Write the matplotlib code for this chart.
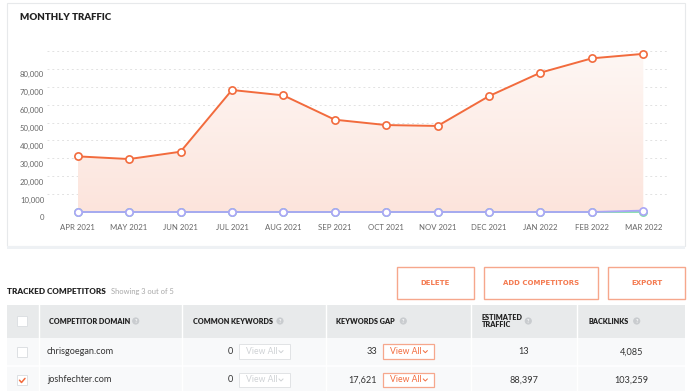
import matplotlib
matplotlib.use("Agg")
import matplotlib.pyplot as plt
import numpy as np
from matplotlib.patches import Rectangle, Circle, Polygon
from matplotlib.colors import LinearSegmentedColormap
from matplotlib.transforms import ScaledTranslation

plt.rcParams['font.family'] = ['Lato', 'DejaVu Sans']

# ---------------- data ----------------
months = ["APR 2021", "MAY 2021", "JUN 2021", "JUL 2021", "AUG 2021", "SEP 2021",
          "OCT 2021", "NOV 2021", "DEC 2021", "JAN 2022", "FEB 2022", "MAR 2022"]
traffic_josh = [31100, 29600, 33700, 68200, 65200, 51600, 48600, 48100, 64800, 77900, 85900, 88397]
traffic_purple = [0, 0, 0, 0, 0, 0, 0, 0, 0, 0, 0, 800]
traffic_green = [0, 0, 0, 0, 0, 0, 0, 0, 0, 0, 0, 13]
y_ticks = [0, 10000, 20000, 30000, 40000, 50000, 60000, 70000, 80000, 90000]
y_tick_labels = ["0", "10,000", "20,000", "30,000", "40,000", "50,000",
                 "60,000", "70,000", "80,000", ""]

domains = ["chrisgoegan.com", "joshfechter.com"]
common_keywords = ["0", "0"]
keywords_gap = ["33", "17,621"]
estimated_traffic = ["13", "88,397"]
backlinks = ["4,085", "103,259"]
checked = [False, True]

ORANGE = "#f26b3d"
ORANGE_LIGHT = "#f6a78c"
PURPLE = "#aaa6f6"
GREEN = "#7fdcaa"

W, H = 700, 391
fig = plt.figure(figsize=(W / 100, H / 100), dpi=100)
fig.patch.set_facecolor("white")

# background axes in pixel coordinates
bg = fig.add_axes([0, 0, 1, 1], zorder=0)
bg.set_xlim(0, W)
bg.set_ylim(H, 0)
bg.axis("off")

# chart panel
bg.add_patch(Rectangle((7, 3), 678, 243, facecolor="white", edgecolor="#e7e9eb", lw=0.8))
bg.add_patch(Rectangle((7, 246), 678, 2.5, facecolor="#eef1f4", edgecolor="none"))
bg.text(20, 18, "MONTHLY TRAFFIC", fontsize=7.0, fontweight="heavy", color="#222222",
        va="center", ha="left")

# chart axes
ax_left, ax_right, ax_top, ax_bot = 47, 667.7, 51, 212
ax = fig.add_axes([ax_left / W, 1 - ax_bot / H, (ax_right - ax_left) / W, (ax_bot - ax_top) / H],
                  zorder=1)
ax.patch.set_alpha(0)
x = np.arange(len(months))
xlim = (-0.597, 11.475)
ylim = (0, 90000)

# gradient fill under main line
poly_pts = [(x[0], 0)] + list(zip(x, traffic_josh)) + [(x[-1], 0)]
poly = Polygon(poly_pts, closed=True, facecolor="none", edgecolor="none")
ax.add_patch(poly)
cmap = LinearSegmentedColormap.from_list("g", ["#fce4dc", "#fef7f4"])
grad = np.linspace(0, 1, 256).reshape(-1, 1)
im = ax.imshow(grad, extent=[x[0], x[-1], 0, 90000], origin="lower", aspect="auto",
               cmap=cmap, zorder=1)
im.set_clip_path(poly)

ax.plot(x, traffic_green, color=GREEN, lw=1.3, marker="o", ms=5.2, mfc="white",
        mec=GREEN, mew=1.2, zorder=3, clip_on=False)
ax.plot(x, traffic_purple, color=PURPLE, lw=1.3, marker="o", ms=5.2, mfc="white",
        mec=PURPLE, mew=1.2, zorder=4, clip_on=False)
ax.plot(x, traffic_josh, color=ORANGE, lw=1.4, marker="o", ms=5.2, mfc="white",
        mec=ORANGE, mew=1.2, zorder=5, clip_on=False)

ax.set_xlim(*xlim)
ax.set_ylim(*ylim)
ax.set_yticks(y_ticks)
ax.set_yticklabels(y_tick_labels)
ax.set_xticks(x)
ax.set_xticklabels(months)
for s in ax.spines.values():
    s.set_visible(False)
ax.tick_params(axis="both", length=0, labelsize=5.6, labelcolor="#666666")
ax.tick_params(axis="x", pad=9)
ax.tick_params(axis="y", pad=2)
ax.yaxis.grid(True, color="#e2e2e2", lw=0.7, linestyle=(0, (2, 3)))
ax.set_axisbelow(True)
off = ScaledTranslation(0, -5.5 / 100, fig.dpi_scale_trans)
for lab in ax.get_yticklabels():
    lab.set_transform(lab.get_transform() + off)

# ---------------- table section ----------------
bg.text(7, 291, "TRACKED COMPETITORS", fontsize=5.9, fontweight="heavy", color="#222222",
        va="center", ha="left")
bg.text(111, 291.5, "Showing 3 out of 5", fontsize=5.4, color="#a8a8a8", va="center", ha="left")

buttons = [("DELETE", 396.7, 473.7), ("ADD COMPETITORS", 484, 597.7), ("EXPORT", 608.3, 685)]
for label, x0, x1 in buttons:
    bg.add_patch(Rectangle((x0, 266.7), x1 - x0, 32, facecolor="white",
                           edgecolor=ORANGE_LIGHT, lw=1.0))
    bg.text((x0 + x1) / 2, 283, label, fontsize=5.0, fontweight="bold", color="#f47a50",
            ha="center", va="center", family="DejaVu Sans")

# header
bg.add_patch(Rectangle((7, 305), 678, 32.7, facecolor="#e8eaeb", edgecolor="none"))
bg.add_patch(Rectangle((7, 337.7), 678, 28.3, facecolor="#f8f9fa", edgecolor="none"))
bg.add_patch(Rectangle((7, 366), 678, 30, facecolor="#f8f9fa", edgecolor="none"))
bg.plot([7, 685], [366, 366], color="white", lw=1.2)
for cx in [38.7, 182.3, 326.3, 471, 577.3]:
    bg.plot([cx, cx], [305, 391], color="white", lw=1.0)


def checkbox(y0, tick=False):
    bg.add_patch(Rectangle((17, y0), 10, 10, facecolor="white", edgecolor="#dde0e3", lw=0.7))
    if tick:
        bg.plot([19.5, 21.5, 25], [y0 + 5, y0 + 7.3, y0 + 3.2], color=ORANGE, lw=1.1,
                solid_capstyle="round")


def qmark(cx, cy):
    bg.add_patch(Circle((cx, cy), 3.6, facecolor="#c9cccf", edgecolor="none"))
    bg.text(cx, cy + 0.2, "?", fontsize=3.8, color="white", ha="center", va="center",
            fontweight="bold")


checkbox(316.3)
hdr_y = 321
hdr_kw = dict(fontsize=5.2, fontweight="heavy", color="#222222", va="center", ha="left")
bg.text(49, hdr_y, "COMPETITOR DOMAIN", **hdr_kw)
qmark(135.7, hdr_y)
bg.text(193.3, hdr_y, "COMMON KEYWORDS", **hdr_kw)
qmark(280, hdr_y)
bg.text(336, hdr_y, "KEYWORDS GAP", **hdr_kw)
qmark(403.3, hdr_y)
bg.text(481.7, 317, "ESTIMATED", **hdr_kw)
bg.text(481.7, 324.5, "TRAFFIC", **hdr_kw)
qmark(528.3, hdr_y)
bg.text(588.3, hdr_y, "BACKLINKS", **hdr_kw)
qmark(636.7, hdr_y)


def view_all(x0, x1, cy, active):
    ec = ORANGE_LIGHT if active else "#e1e3e5"
    tc = ORANGE if active else "#cfd2d5"
    bg.add_patch(Rectangle((x0, cy - 7.3), x1 - x0, 14.6, facecolor="white", edgecolor=ec,
                           lw=0.9 if active else 0.7))
    bg.text(x0 + 7.5, cy, "View All", fontsize=6.2, color=tc, ha="left", va="center")
    chx = x1 - 9
    bg.plot([chx - 2, chx, chx + 2], [cy - 1, cy + 1, cy - 1], color=tc, lw=0.7)


row_y = [351.7, 380]
txt_kw = dict(fontsize=6.6, color="#333333", va="center")
for i, cy in enumerate(row_y):
    checkbox(cy - 4.8, checked[i])
    bg.text(47, cy, domains[i], ha="left", **txt_kw)
    bg.text(233.5, cy, common_keywords[i], ha="right", **txt_kw)
    view_all(238.7, 290, cy, False)
    bg.text(377, cy, keywords_gap[i], ha="right", **txt_kw)
    view_all(382.7, 434.3, cy, True)
    bg.text(524, cy, estimated_traffic[i], ha="center", **txt_kw)
    bg.text(631.7, cy, backlinks[i], ha="center", **txt_kw)

fig.savefig("out.png", dpi=100, facecolor="white")
